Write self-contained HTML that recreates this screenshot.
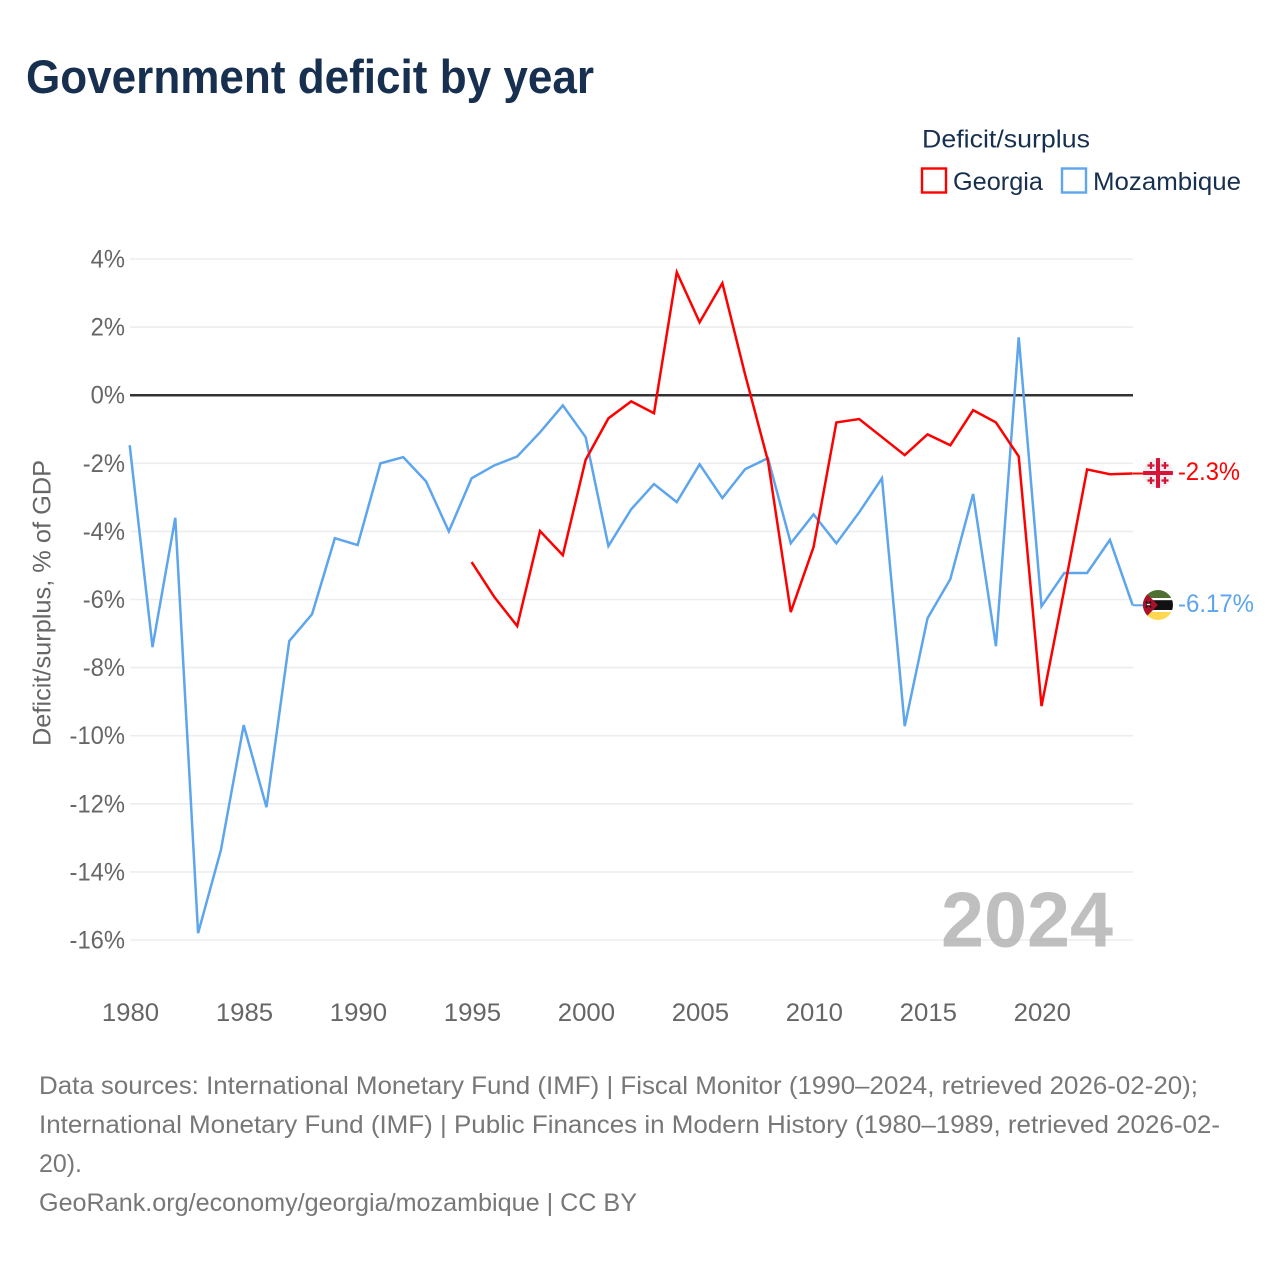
<!DOCTYPE html>
<html lang="en">
<head>
<meta charset="utf-8">
<title>Government deficit by year</title>
<style>
html,body{margin:0;padding:0;background:#fff;width:1280px;height:1280px;overflow:hidden}
svg{display:block}
text{font-family:"Liberation Sans",sans-serif}
</style>
</head>
<body>
<svg id="chart" xmlns="http://www.w3.org/2000/svg" width="1280" height="1280" viewBox="0 0 1280 1280">
  <text x="26" y="93" font-size="47" font-weight="700" fill="#18304f" textLength="568" lengthAdjust="spacingAndGlyphs">Government deficit by year</text>

  <g>
    <text x="922" y="147.500" font-size="25" fill="#18304f" textLength="168" lengthAdjust="spacingAndGlyphs">Deficit/surplus</text>
    <rect x="922" y="168.500" width="24" height="24" fill="none" stroke="#ff0000" stroke-width="2.400"/>
    <text x="953" y="190" font-size="25" fill="#18304f" textLength="90" lengthAdjust="spacingAndGlyphs">Georgia</text>
    <rect x="1062" y="168.500" width="24" height="24" fill="none" stroke="#5da5ec" stroke-width="2.400"/>
    <text x="1093" y="190" font-size="25" fill="#18304f" textLength="148" lengthAdjust="spacingAndGlyphs">Mozambique</text>
  </g>

  <text transform="translate(50.500,603) rotate(-90)" text-anchor="middle" font-size="25" fill="#666" textLength="286" lengthAdjust="spacingAndGlyphs">Deficit/surplus, % of GDP</text>

  <g id="grid"></g>
  <g id="yticks"></g>
  <g id="xticks"></g>

  <text x="941" y="946.500" font-size="78" font-weight="700" fill="#a6a6a6" fill-opacity="0.72" textLength="172" lengthAdjust="spacingAndGlyphs">2024</text>

  <g id="series"></g>

  <defs>
    <clipPath id="clip-ge"><circle cx="1158" cy="473" r="15"/></clipPath>
    <clipPath id="clip-mz"><circle cx="1158" cy="605" r="15"/></clipPath>
  </defs>

  <g clip-path="url(#clip-ge)">
    <rect x="1143" y="458" width="30" height="30" fill="#f0f0f0"/>
    <rect x="1156" y="458" width="4" height="30" fill="#d8133a"/>
    <rect x="1143" y="471" width="30" height="4" fill="#d8133a"/>
    <path d="M1151 462v7M1147.500 465.500h7M1165 462v7M1161.500 465.500h7M1151 477v7M1147.500 480.500h7M1165 477v7M1161.500 480.500h7" stroke="#d8133a" stroke-width="2.200" fill="none"/>
  </g>
  <g clip-path="url(#clip-mz)">
    <rect x="1143" y="590" width="30" height="10.500" fill="#4f7032"/>
    <rect x="1143" y="600" width="30" height="10" fill="#111"/>
    <rect x="1143" y="598" width="30" height="2.200" fill="#fff"/>
    <rect x="1143" y="610" width="30" height="2.200" fill="#fff"/>
    <rect x="1143" y="612" width="30" height="8" fill="#ffd84f"/>
    <path d="M1143 590 L1158 605 L1143 620Z" fill="#a8112c"/>
    <path d="M1146 601.500l5 6M1151 601.500l-5 6" stroke="#111" stroke-width="1.600"/>
    <path d="M1147 604.500h3" stroke="#eee" stroke-width="1.400"/>
  </g>

  <text id="label-ge" x="1178" y="480" font-size="25" fill="#ff0000" textLength="62" lengthAdjust="spacingAndGlyphs">-2.3%</text>
  <text id="label-mz" x="1178" y="612" font-size="25" fill="#5da5ec" textLength="76" lengthAdjust="spacingAndGlyphs">-6.17%</text>

  <g font-size="25" fill="#777">
    <text x="39" y="1094" textLength="1159" lengthAdjust="spacingAndGlyphs">Data sources: International Monetary Fund (IMF) | Fiscal Monitor (1990–2024, retrieved 2026-02-20);</text>
    <text x="39" y="1133" textLength="1181" lengthAdjust="spacingAndGlyphs">International Monetary Fund (IMF) | Public Finances in Modern History (1980–1989, retrieved 2026-02-</text>
    <text x="39" y="1172" textLength="43" lengthAdjust="spacingAndGlyphs">20).</text>
    <text x="39" y="1211" textLength="598" lengthAdjust="spacingAndGlyphs">GeoRank.org/economy/georgia/mozambique | CC BY</text>
  </g>
</svg>
<script>
const yTickValues = [4, 2, 0, -2, -4, -6, -8, -10, -12, -14, -16];
const xTickYears = [1980, 1985, 1990, 1995, 2000, 2005, 2010, 2015, 2020];
const mozambiqueYears = [1980,1981,1982,1983,1984,1985,1986,1987,1988,1989,1990,1991,1992,1993,1994,1995,1996,1997,1998,1999,2000,2001,2002,2003,2004,2005,2006,2007,2008,2009,2010,2011,2012,2013,2014,2015,2016,2017,2018,2019,2020,2021,2022,2023,2024];
const mozambiqueValues = [-1.47,-7.4,-3.6,-15.8,-13.36,-9.69,-12.1,-7.22,-6.43,-4.2,-4.4,-2.0,-1.82,-2.53,-4.0,-2.44,-2.06,-1.8,-1.09,-0.3,-1.23,-4.43,-3.35,-2.61,-3.14,-2.03,-3.02,-2.17,-1.85,-4.35,-3.5,-4.35,-3.44,-2.44,-9.72,-6.55,-5.4,-2.9,-7.37,1.7,-6.2,-5.22,-5.22,-4.25,-6.17];
const georgiaYears = [1995,1996,1997,1998,1999,2000,2001,2002,2003,2004,2005,2006,2007,2008,2009,2010,2011,2012,2013,2014,2015,2016,2017,2018,2019,2020,2021,2022,2023,2024];
const georgiaValues = [-4.9,-5.93,-6.78,-3.99,-4.7,-1.9,-0.68,-0.18,-0.53,3.61,2.14,3.29,0.6,-1.93,-6.37,-4.46,-0.8,-0.7,-1.23,-1.76,-1.15,-1.47,-0.44,-0.8,-1.8,-9.13,-5.7,-2.18,-2.32,-2.3];

const NS = 'http://www.w3.org/2000/svg';
function xScale(year) { return 129.7 + (year - 1980) * (1132.7 - 129.7) / 44; }
function yScale(v) { return 395.2 - v * 34.05; }

const gridGroup = document.getElementById('grid');
const yTickGroup = document.getElementById('yticks');
const xTickGroup = document.getElementById('xticks');
const seriesGroup = document.getElementById('series');

yTickValues.forEach(function (v) {
  if (v === 0) return;
  const line = document.createElementNS(NS, 'line');
  
  
  line.setAttribute('x1', 130);
  line.setAttribute('x2', 1133);
  line.setAttribute('y1', yScale(v));
  line.setAttribute('y2', yScale(v));
  line.setAttribute('stroke', '#ededed');
  line.setAttribute('stroke-width', 1.6);
  gridGroup.appendChild(line);
});

yTickValues.forEach(function (v) {
  const label = v + '%';
  const t = document.createElementNS(NS, 'text');
  
  
  t.setAttribute('x', 125);
  t.setAttribute('y', yScale(v) + 8.5);
  t.setAttribute('text-anchor', 'end');
  t.setAttribute('font-size', 25);
  t.setAttribute('fill', '#666');
  t.textContent = label;
  yTickGroup.appendChild(t);
  t.setAttribute('lengthAdjust', 'spacingAndGlyphs');
  t.setAttribute('textLength', (t.getComputedTextLength() * 0.95).toFixed(2));
});

xTickYears.forEach(function (yr) {
  const t = document.createElementNS(NS, 'text');
  
  
  t.setAttribute('x', xScale(yr) + 0.8);
  t.setAttribute('y', 1021);
  t.setAttribute('text-anchor', 'middle');
  t.setAttribute('font-size', 25);
  t.setAttribute('fill', '#666');
  t.textContent = String(yr);
  xTickGroup.appendChild(t);
  t.setAttribute('lengthAdjust', 'spacingAndGlyphs');
  t.setAttribute('textLength', (t.getComputedTextLength() * 1.03).toFixed(2));
});

const zeroLine = document.createElementNS(NS, 'line');


zeroLine.setAttribute('x1', 130);
zeroLine.setAttribute('x2', 1133);
zeroLine.setAttribute('y1', yScale(0));
zeroLine.setAttribute('y2', yScale(0));
zeroLine.setAttribute('stroke', '#333');
zeroLine.setAttribute('stroke-width', 2.5);
gridGroup.appendChild(zeroLine);

function pointsFor(years, values) {
  return years.map(function (yr, i) { return xScale(yr).toFixed(2) + ',' + yScale(values[i]).toFixed(2); }).join(' ');
}

const moz = document.createElementNS(NS, 'polyline');


moz.setAttribute('points', pointsFor(mozambiqueYears, mozambiqueValues));
moz.setAttribute('fill', 'none');
moz.setAttribute('stroke', '#5da5ec');
moz.setAttribute('stroke-width', 2.5);
seriesGroup.appendChild(moz);

const geo = document.createElementNS(NS, 'polyline');


geo.setAttribute('points', pointsFor(georgiaYears, georgiaValues));
geo.setAttribute('fill', 'none');
geo.setAttribute('stroke', '#ff0000');
geo.setAttribute('stroke-width', 2.5);
seriesGroup.appendChild(geo);

const mozLast = mozambiqueValues[mozambiqueValues.length - 1];
const geoLast = georgiaValues[georgiaValues.length - 1];

const mozLead = document.createElementNS(NS, 'line');


mozLead.setAttribute('x1', 1133);
mozLead.setAttribute('x2', 1144);
mozLead.setAttribute('y1', yScale(mozLast));
mozLead.setAttribute('y2', yScale(mozLast));
mozLead.setAttribute('stroke', '#5da5ec');
mozLead.setAttribute('stroke-width', 2);
seriesGroup.appendChild(mozLead);

const geoLead = document.createElementNS(NS, 'line');


geoLead.setAttribute('x1', 1133);
geoLead.setAttribute('x2', 1144);
geoLead.setAttribute('y1', yScale(geoLast));
geoLead.setAttribute('y2', yScale(geoLast));
geoLead.setAttribute('stroke', '#ff0000');
geoLead.setAttribute('stroke-width', 2);
seriesGroup.appendChild(geoLead);
</script>
</body>
</html>
